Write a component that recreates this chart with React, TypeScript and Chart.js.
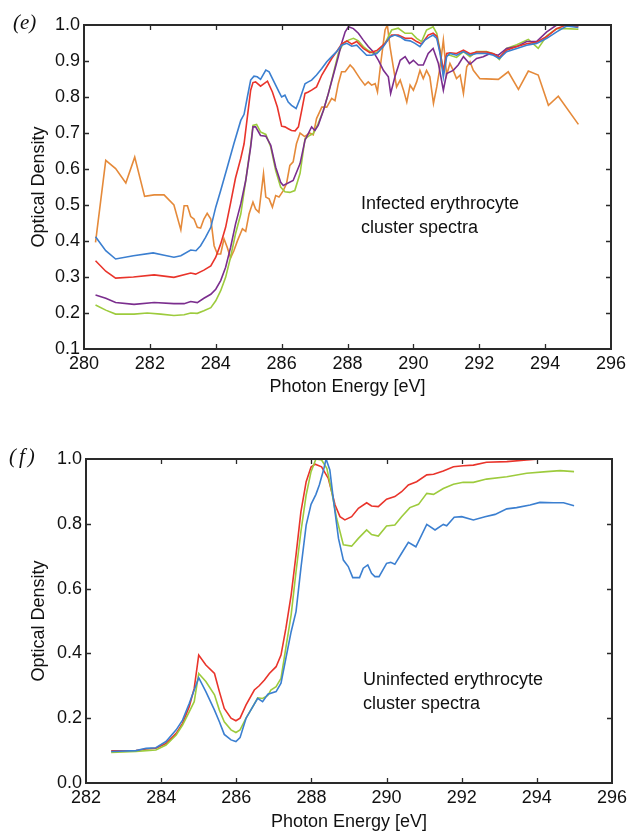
import React, { useEffect, useRef } from 'react';
import { Chart, registerables } from 'chart.js';

Chart.register(...registerables);

// ---------- Panel (e): infected erythrocyte cluster spectra ----------
const infXTicks = [280, 282, 284, 286, 288, 290, 292, 294, 296];
const infYTicks = [0.1, 0.2, 0.3, 0.4, 0.5, 0.6, 0.7, 0.8, 0.9, 1.0];

const infBlueE = [280.35,280.66,280.96,281.5,282.1,282.4,282.73,282.94,283.24,283.4,283.54,283.69,283.85,284.0,284.15,284.35,284.55,284.76,284.86,284.96,285.06,285.16,285.26,285.36,285.52,285.62,285.77,285.92,286.0,286.1,286.2,286.3,286.44,286.56,286.71,286.81,286.91,287.06,287.22,287.37,287.52,287.67,287.82,287.98,288.13,288.28,288.43,288.58,288.73,288.89,289.09,289.29,289.44,289.6,289.75,289.9,290.05,290.2,290.35,290.5,290.6,290.71,290.81,290.91,291.01,291.11,291.31,291.52,291.72,291.92,292.22,292.43,292.61,292.83,293.14,293.44,293.74,294.05,294.35,294.65,295.01];
const infBlueOD = [0.412,0.373,0.35,0.359,0.367,0.361,0.355,0.359,0.375,0.373,0.387,0.41,0.438,0.494,0.54,0.605,0.67,0.735,0.752,0.8,0.847,0.858,0.856,0.849,0.875,0.87,0.842,0.814,0.8,0.805,0.786,0.777,0.768,0.796,0.837,0.842,0.847,0.861,0.879,0.898,0.912,0.926,0.944,0.949,0.941,0.944,0.93,0.916,0.916,0.921,0.94,0.967,0.972,0.967,0.958,0.956,0.949,0.94,0.958,0.967,0.972,0.963,0.921,0.856,0.912,0.921,0.916,0.926,0.916,0.921,0.921,0.916,0.907,0.926,0.935,0.944,0.949,0.963,0.981,0.997,0.993];

const infRedE = [280.35,280.66,280.96,281.5,282.13,282.73,283.24,283.39,283.64,283.85,284.0,284.15,284.3,284.45,284.6,284.76,284.86,284.96,285.06,285.13,285.21,285.36,285.57,285.72,285.87,286.0,286.1,286.2,286.3,286.41,286.51,286.61,286.71,286.81,286.91,287.06,287.22,287.37,287.52,287.67,287.82,287.98,288.13,288.28,288.48,288.68,288.89,289.14,289.34,289.54,289.75,289.95,290.1,290.25,290.45,290.6,290.71,290.81,290.91,291.01,291.11,291.31,291.52,291.72,291.92,292.22,292.43,292.61,292.83,293.14,293.44,293.74,294.05,294.35,294.65,295.0];
const infRedOD = [0.345,0.316,0.297,0.3,0.306,0.299,0.311,0.308,0.319,0.331,0.355,0.392,0.438,0.505,0.575,0.63,0.67,0.745,0.819,0.84,0.842,0.83,0.844,0.814,0.772,0.719,0.717,0.712,0.707,0.706,0.717,0.763,0.81,0.814,0.819,0.828,0.861,0.884,0.907,0.926,0.947,0.956,0.947,0.954,0.935,0.923,0.929,0.949,0.972,0.972,0.963,0.963,0.954,0.947,0.972,0.977,0.969,0.926,0.874,0.921,0.923,0.921,0.93,0.92,0.925,0.925,0.92,0.91,0.93,0.94,0.948,0.952,0.968,0.99,1.0,0.995];

const infPurpleE = [280.35,280.66,280.96,281.52,282.13,282.73,283.04,283.24,283.44,283.64,283.85,284.0,284.15,284.3,284.45,284.6,284.76,284.91,285.06,285.13,285.21,285.36,285.52,285.67,285.82,285.97,286.05,286.35,286.56,286.71,286.91,287.01,287.11,287.27,287.42,287.57,287.72,287.82,287.93,288.03,288.18,288.33,288.48,288.63,288.78,288.94,289.09,289.24,289.31,289.44,289.6,289.75,289.88,290.0,290.15,290.3,290.45,290.6,290.76,290.91,291.01,291.21,291.36,291.52,291.72,291.92,292.12,292.33,292.58,292.83,293.14,293.44,293.74,294.05,294.35,294.65,295.01];
const infPurpleOD = [0.25,0.241,0.229,0.224,0.229,0.226,0.226,0.232,0.229,0.241,0.252,0.266,0.29,0.327,0.382,0.447,0.503,0.568,0.661,0.717,0.717,0.693,0.691,0.666,0.605,0.563,0.554,0.568,0.615,0.68,0.717,0.707,0.721,0.763,0.81,0.861,0.912,0.949,0.981,0.995,0.99,0.977,0.958,0.94,0.926,0.902,0.874,0.856,0.81,0.856,0.902,0.912,0.893,0.902,0.889,0.889,0.921,0.935,0.893,0.819,0.865,0.874,0.889,0.912,0.891,0.907,0.912,0.921,0.916,0.935,0.94,0.954,0.954,0.981,1.0,1.0,0.997];

const infGreenE = [280.35,280.66,280.96,281.52,281.92,282.33,282.73,283.04,283.24,283.44,283.64,283.85,284.0,284.15,284.3,284.45,284.6,284.76,284.91,285.06,285.13,285.24,285.36,285.52,285.67,285.82,285.97,286.1,286.25,286.4,286.56,286.71,286.86,286.96,287.11,287.27,287.42,287.57,287.72,287.87,288.03,288.18,288.33,288.48,288.63,288.78,288.94,289.14,289.34,289.54,289.75,289.95,290.1,290.25,290.4,290.6,290.71,290.81,290.91,291.01,291.11,291.31,291.52,291.72,291.92,292.22,292.43,292.61,292.83,293.14,293.49,293.79,294.05,294.35,294.65,295.01];
const infGreenOD = [0.222,0.208,0.197,0.197,0.2,0.197,0.193,0.195,0.2,0.199,0.206,0.215,0.234,0.262,0.299,0.355,0.42,0.475,0.568,0.666,0.721,0.724,0.703,0.696,0.661,0.596,0.55,0.537,0.535,0.54,0.588,0.684,0.694,0.698,0.726,0.763,0.81,0.865,0.921,0.949,0.958,0.963,0.956,0.94,0.929,0.921,0.926,0.949,0.986,0.991,0.977,0.977,0.963,0.954,0.986,0.995,0.977,0.93,0.865,0.916,0.916,0.91,0.926,0.912,0.926,0.926,0.92,0.904,0.935,0.945,0.96,0.935,0.97,0.99,0.99,0.988];

const infOrangeE = [280.35,280.66,280.96,281.27,281.54,281.84,282.13,282.43,282.73,282.94,283.04,283.14,283.24,283.34,283.44,283.54,283.64,283.74,283.85,283.95,284.05,284.15,284.25,284.35,284.45,284.55,284.66,284.81,284.91,285.01,285.13,285.21,285.31,285.45,285.52,285.62,285.72,285.82,285.92,286.05,286.15,286.25,286.35,286.45,286.56,286.7,286.85,286.96,287.06,287.22,287.37,287.52,287.62,287.72,287.82,287.93,288.08,288.18,288.28,288.38,288.53,288.63,288.73,288.84,288.91,289.02,289.14,289.21,289.29,289.39,289.49,289.6,289.7,289.8,289.9,290.0,290.1,290.2,290.3,290.4,290.5,290.61,290.71,290.81,290.91,291.01,291.11,291.21,291.31,291.42,291.52,291.62,291.72,291.82,292.02,292.58,292.88,293.19,293.49,293.79,294.1,294.4,295.01];
const infOrangeOD = [0.396,0.624,0.601,0.561,0.633,0.524,0.528,0.528,0.5,0.431,0.498,0.498,0.468,0.461,0.438,0.436,0.461,0.477,0.461,0.387,0.364,0.364,0.406,0.382,0.353,0.373,0.401,0.434,0.427,0.475,0.508,0.489,0.48,0.587,0.522,0.517,0.494,0.526,0.522,0.54,0.56,0.61,0.62,0.67,0.7,0.69,0.7,0.695,0.74,0.772,0.772,0.796,0.79,0.837,0.87,0.87,0.889,0.879,0.865,0.851,0.833,0.842,0.833,0.837,0.814,0.902,0.986,1.0,0.94,0.884,0.828,0.847,0.819,0.786,0.833,0.819,0.842,0.874,0.851,0.874,0.856,0.782,0.828,0.884,0.958,0.861,0.893,0.874,0.851,0.861,0.81,0.884,0.898,0.874,0.851,0.849,0.87,0.821,0.872,0.861,0.777,0.802,0.724];

// ---------- Panel (f): uninfected erythrocyte cluster spectra ----------
const uninfXTicks = [282, 284, 286, 288, 290, 292, 294, 296];
const uninfYTicks = [0.0, 0.2, 0.4, 0.6, 0.8, 1.0];

const uninfRedE = [282.67,283.33,283.6,283.86,284.13,284.4,284.57,284.75,284.88,285.0,285.19,285.42,285.55,285.68,285.86,285.99,286.1,286.26,286.48,286.61,286.75,286.88,287.06,287.19,287.32,287.46,287.59,287.72,287.86,287.99,288.1,288.27,288.45,288.63,288.76,288.89,289.07,289.25,289.47,289.6,289.78,290.0,290.22,290.4,290.58,290.8,291.07,291.25,291.51,291.78,292.04,292.31,292.66,293.2,293.73,294.08,294.5,295.0];
const uninfRedOD = [0.099,0.1,0.105,0.107,0.122,0.153,0.184,0.236,0.292,0.395,0.364,0.338,0.282,0.23,0.2,0.192,0.2,0.241,0.287,0.3,0.318,0.338,0.359,0.395,0.477,0.58,0.704,0.837,0.93,0.975,0.984,0.976,0.94,0.858,0.822,0.812,0.822,0.848,0.865,0.855,0.853,0.876,0.884,0.899,0.92,0.93,0.951,0.953,0.963,0.976,0.979,0.981,0.99,0.992,0.997,1.0,1.0,1.0];

const uninfGreenE = [282.67,283.33,283.6,283.86,284.13,284.4,284.57,284.75,284.88,285.0,285.19,285.42,285.55,285.68,285.86,285.99,286.1,286.26,286.44,286.57,286.7,286.84,286.92,287.06,287.19,287.32,287.46,287.59,287.72,287.86,287.99,288.12,288.27,288.41,288.54,288.67,288.85,289.07,289.25,289.47,289.6,289.78,290.0,290.22,290.4,290.62,290.85,291.07,291.25,291.51,291.78,292.04,292.31,292.66,293.2,293.73,294.26,294.62,294.99];
const uninfGreenOD = [0.094,0.097,0.1,0.102,0.117,0.148,0.179,0.22,0.251,0.338,0.313,0.272,0.225,0.189,0.164,0.156,0.164,0.2,0.236,0.263,0.261,0.27,0.287,0.297,0.323,0.418,0.519,0.652,0.776,0.889,0.961,1.0,0.997,0.971,0.899,0.817,0.735,0.731,0.755,0.781,0.767,0.762,0.793,0.796,0.822,0.85,0.86,0.894,0.891,0.909,0.922,0.928,0.928,0.938,0.945,0.956,0.961,0.964,0.961];

const uninfBlueE = [282.67,283.33,283.6,283.86,284.13,284.4,284.57,284.75,284.88,285.0,285.19,285.42,285.55,285.68,285.86,285.99,286.1,286.26,286.44,286.57,286.7,286.84,287.06,287.19,287.32,287.46,287.59,287.72,287.86,287.99,288.12,288.21,288.32,288.39,288.49,288.58,288.72,288.85,288.98,289.1,289.28,289.38,289.5,289.6,289.69,289.8,290.0,290.11,290.22,290.4,290.58,290.78,291.07,291.29,291.51,291.6,291.8,292.0,292.31,292.62,292.89,293.2,293.46,293.82,294.08,294.44,294.71,294.99];
const uninfBlueOD = [0.097,0.1,0.107,0.109,0.128,0.164,0.194,0.246,0.287,0.325,0.282,0.225,0.189,0.15,0.133,0.128,0.14,0.2,0.236,0.261,0.251,0.274,0.282,0.308,0.385,0.467,0.529,0.663,0.796,0.86,0.891,0.92,0.965,1.0,0.966,0.879,0.755,0.688,0.668,0.634,0.634,0.663,0.673,0.647,0.637,0.637,0.678,0.681,0.675,0.709,0.743,0.729,0.798,0.781,0.798,0.794,0.82,0.822,0.812,0.822,0.829,0.846,0.85,0.858,0.866,0.865,0.865,0.856];

const infNote = ['Infected erythrocyte', 'cluster spectra'];
const uninfNote = ['Uninfected erythrocyte', 'cluster spectra'];
const xTitle = 'Photon Energy [eV]';
const yTitle = 'Optical Density';

const COLORS = {
  blue: '#3b7fd0',
  red: '#e9342b',
  purple: '#7b2e8e',
  green: '#9dcb3d',
  orange: '#e58a3a',
};

const FONT = "'Liberation Sans', Arial, Helvetica, sans-serif";

function pts(xs: number[], ys: number[]) {
  return xs.map((x, i) => ({ x, y: ys[i] }));
}

const frameTicksPlugin = {
  id: 'frameTicks',
  afterDatasetsDraw(chart: any) {
    const { ctx, chartArea } = chart;
    const { left, right, top, bottom } = chartArea;
    const xs = chart.scales.x;
    const ys = chart.scales.y;
    const len = 5;
    ctx.save();
    ctx.strokeStyle = '#2a2a2a';
    ctx.lineWidth = 1.3;
    ctx.beginPath();
    xs.ticks.forEach((t: any, i: number) => {
      if (i === 0 || i === xs.ticks.length - 1) return;
      const p = Math.round(xs.getPixelForValue(t.value)) + 0.5;
      ctx.moveTo(p, bottom);
      ctx.lineTo(p, bottom - len);
      ctx.moveTo(p, top);
      ctx.lineTo(p, top + len);
    });
    ys.ticks.forEach((t: any, i: number) => {
      if (i === 0 || i === ys.ticks.length - 1) return;
      const p = Math.round(ys.getPixelForValue(t.value)) + 0.5;
      ctx.moveTo(left, p);
      ctx.lineTo(left + len, p);
      ctx.moveTo(right, p);
      ctx.lineTo(right - len, p);
    });
    ctx.stroke();
    ctx.lineWidth = 2;
    ctx.strokeStyle = '#2a2a2a';
    ctx.strokeRect(left, top, right - left, bottom - top);
    ctx.restore();
  },
};

const notePlugin = {
  id: 'noteText',
  afterDraw(chart: any, _args: any, opts: any) {
    if (!opts || !opts.lines) return;
    const { ctx } = chart;
    const x = chart.scales.x.getPixelForValue(opts.x);
    const y = chart.scales.y.getPixelForValue(opts.y);
    ctx.save();
    ctx.font = `18px ${FONT}`;
    ctx.fillStyle = '#111';
    ctx.textAlign = 'left';
    ctx.textBaseline = 'middle';
    opts.lines.forEach((l: string, i: number) => {
      ctx.fillText(l, x, y + i * 24);
    });
    ctx.restore();
  },
};

type PanelProps = {
  width: number;
  height: number;
  datasets: any[];
  xMin: number;
  xMax: number;
  yMin: number;
  yMax: number;
  yStep: number;
  padding: { left: number; top: number; right: number; bottom: number };
  yAxisWidth: number;
  xAxisHeight: number;
  xTitlePad: number;
  note: { lines: string[]; x: number; y: number };
};

function Panel(p: PanelProps) {
  const ref = useRef<HTMLCanvasElement | null>(null);
  useEffect(() => {
    if (!ref.current) return;
    const chart = new Chart(ref.current, {
      type: 'line',
      data: { datasets: p.datasets },
      options: {
        animation: false,
        responsive: false,
        devicePixelRatio: 1,
        layout: { padding: p.padding },
        plugins: {
          legend: { display: false },
          tooltip: { enabled: false },
          noteText: p.note,
        } as any,
        elements: { point: { radius: 0 }, line: { tension: 0 } },
        scales: {
          x: {
            type: 'linear',
            min: p.xMin,
            max: p.xMax,
            grid: { display: false, drawTicks: false },
            border: { display: false },
            ticks: {
              stepSize: 2,
              padding: 4,
              color: '#111',
              font: { family: FONT, size: 18 },
              maxRotation: 0,
              callback: (v: any) => String(v),
            },
            title: {
              display: true,
              text: xTitle,
              color: '#111',
              font: { family: FONT, size: 18 },
              padding: { top: 0, bottom: p.xTitlePad },
            },
            afterFit: (s: any) => {
              s.height = p.xAxisHeight;
              s.paddingLeft = 0;
              s.paddingRight = 0;
            },
          },
          y: {
            type: 'linear',
            min: p.yMin,
            max: p.yMax,
            grid: { display: false, drawTicks: false },
            border: { display: false },
            ticks: {
              stepSize: p.yStep,
              padding: 4,
              color: '#111',
              font: { family: FONT, size: 18 },
              callback: (v: any) => Number(v).toFixed(1),
            },
            title: {
              display: true,
              text: yTitle,
              color: '#111',
              font: { family: FONT, size: 18 },
              padding: { top: 28, bottom: 0 },
            },
            afterFit: (s: any) => {
              s.width = p.yAxisWidth;
              s.paddingTop = 0;
              s.paddingBottom = 0;
            },
          },
        },
      } as any,
      plugins: [frameTicksPlugin, notePlugin],
    });
    return () => chart.destroy();
  }, []);
  return <canvas ref={ref} width={p.width} height={p.height} style={{ display: 'block', width: p.width, height: p.height }} />;
}

function line(label: string, xs: number[], ys: number[], color: string) {
  return {
    label,
    data: pts(xs, ys),
    borderColor: color,
    backgroundColor: color,
    borderWidth: 1.6,
    pointRadius: 0,
    fill: false,
  };
}

export default function App() {
  const infDatasets = [
    line('blue', infBlueE, infBlueOD, COLORS.blue),
    line('red', infRedE, infRedOD, COLORS.red),
    line('purple', infPurpleE, infPurpleOD, COLORS.purple),
    line('green', infGreenE, infGreenOD, COLORS.green),
    line('orange', infOrangeE, infOrangeOD, COLORS.orange),
  ];
  const uninfDatasets = [
    line('blue', uninfBlueE, uninfBlueOD, COLORS.blue),
    line('green', uninfGreenE, uninfGreenOD, COLORS.green),
    line('red', uninfRedE, uninfRedOD, COLORS.red),
  ];
  const labelStyle: React.CSSProperties = {
    position: 'absolute',
    fontFamily: "'Liberation Serif', 'DejaVu Serif', serif",
    fontStyle: 'italic',
    fontSize: 21,
    color: '#111',
    lineHeight: 1,
  };
  return (
    <div style={{ position: 'absolute', left: 0, top: 0, width: 627, height: 833, background: '#fff', overflow: 'hidden' }}>
      <div style={{ position: 'absolute', left: 0, top: 0 }}>
        <Panel
          width={627}
          height={415}
          datasets={infDatasets}
          xMin={infXTicks[0]}
          xMax={infXTicks[infXTicks.length - 1]}
          yMin={infYTicks[0]}
          yMax={infYTicks[infYTicks.length - 1]}
          yStep={0.1}
          padding={{ left: 0, top: 25, right: 16, bottom: 0 }}
          yAxisWidth={84}
          xAxisHeight={66}
          xTitlePad={17}
          note={{ lines: infNote, x: 288.41, y: 0.504 }}
        />
      </div>
      <div style={{ position: 'absolute', left: 0, top: 415 }}>
        <Panel
          width={627}
          height={418}
          datasets={uninfDatasets}
          xMin={uninfXTicks[0]}
          xMax={uninfXTicks[uninfXTicks.length - 1]}
          yMin={uninfYTicks[0]}
          yMax={uninfYTicks[uninfYTicks.length - 1]}
          yStep={0.2}
          padding={{ left: 0, top: 44, right: 15, bottom: 0 }}
          yAxisWidth={86}
          xAxisHeight={50}
          xTitlePad={0}
          note={{ lines: uninfNote, x: 289.37, y: 0.318 }}
        />
      </div>
      <div style={{ ...labelStyle, left: 13, top: 12 }}>(e)</div>
      <div style={{ ...labelStyle, left: 9, top: 446, letterSpacing: 3 }}>(f)</div>
    </div>
  );
}
